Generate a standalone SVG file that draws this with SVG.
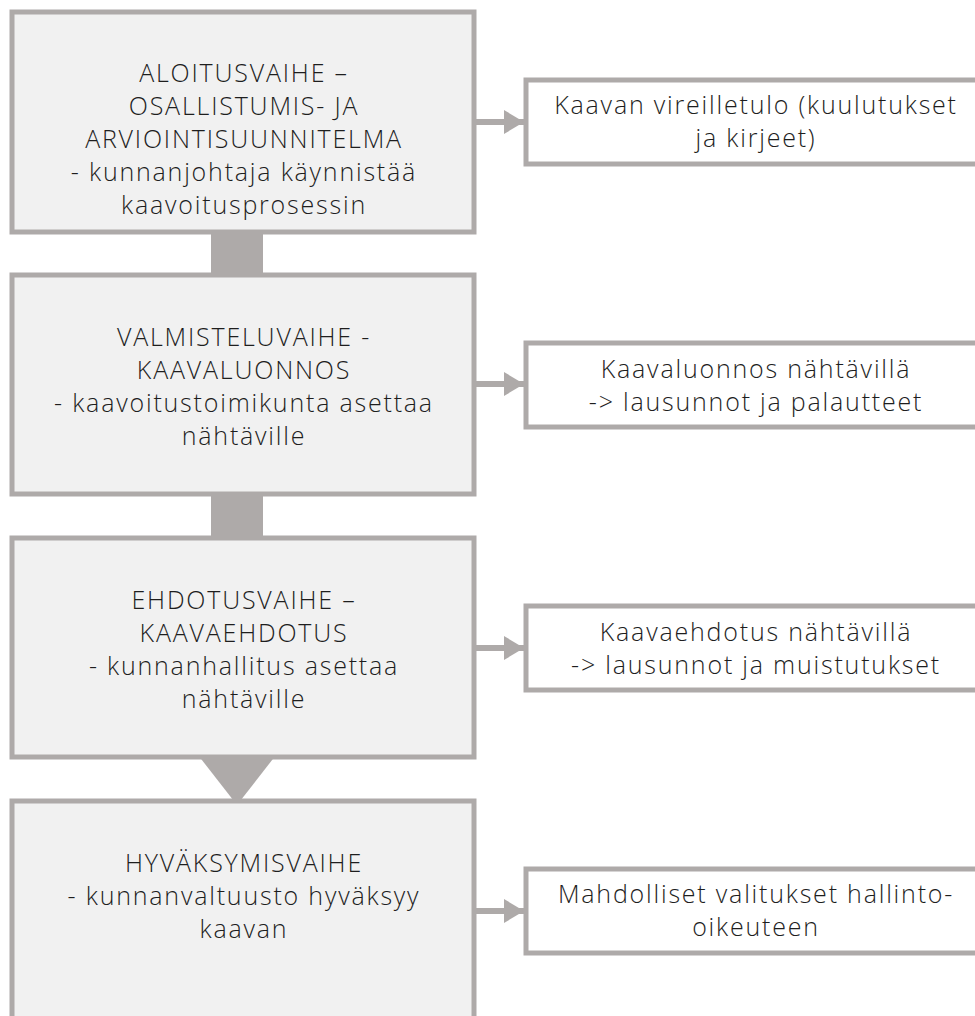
<svg xmlns="http://www.w3.org/2000/svg" width="975" height="1016" viewBox="0 0 975 1016">
<style>
.main{fill:#f1f1f1;stroke:#aeaaa9;stroke-width:5}
.side{fill:#ffffff;stroke:#aeaaa9;stroke-width:5}
.conn{fill:#aeaaa9;stroke:none}
.arr{stroke:#aeaaa9;stroke-width:6;fill:none}
text{font-family:"Open Sans","Liberation Sans",sans-serif;font-weight:300;font-size:25px;letter-spacing:1.8px;fill:#1e1e1e;text-anchor:middle}
</style>
<defs>
<marker id="ah" markerUnits="userSpaceOnUse" markerWidth="22" markerHeight="24" refX="20" refY="12" orient="auto">
<path d="M0,0 L20,12 L0,24 Z" fill="#aeaaa9"/>
</marker>
</defs>
<rect width="975" height="1016" fill="#ffffff"/>
<g id="connectors">
<rect class="conn" x="211" y="232" width="52" height="44"/>
<rect class="conn" x="211" y="494" width="52" height="44"/>
<path class="conn" d="M198,755 L276,755 L237,805 Z"/>
<line class="arr" x1="474" y1="122" x2="524" y2="122" marker-end="url(#ah)"/>
<line class="arr" x1="474" y1="384" x2="524" y2="384" marker-end="url(#ah)"/>
<line class="arr" x1="474" y1="648" x2="524" y2="648" marker-end="url(#ah)"/>
<line class="arr" x1="474" y1="911" x2="524" y2="911" marker-end="url(#ah)"/>
</g>
<g id="n1">
<rect class="main" x="12" y="12" width="462" height="220"/>
<text x="244" y="82">ALOITUSVAIHE –</text>
<text x="244" y="115">OSALLISTUMIS- JA</text>
<text x="244" y="148">ARVIOINTISUUNNITELMA</text>
<text x="244" y="181">- kunnanjohtaja käynnistää</text>
<text x="244" y="214">kaavoitusprosessin</text>
</g>
<g id="n2">
<rect class="main" x="12" y="275" width="462" height="219"/>
<text x="244" y="346">VALMISTELUVAIHE -</text>
<text x="244" y="379">KAAVALUONNOS</text>
<text x="244" y="412">- kaavoitustoimikunta asettaa</text>
<text x="244" y="445">nähtäville</text>
</g>
<g id="n3">
<rect class="main" x="12" y="538" width="462" height="219"/>
<text x="244" y="609">EHDOTUSVAIHE –</text>
<text x="244" y="642">KAAVAEHDOTUS</text>
<text x="244" y="675">- kunnanhallitus asettaa</text>
<text x="244" y="708">nähtäville</text>
</g>
<g id="n4">
<rect class="main" x="12" y="801" width="462" height="240"/>
<text x="244" y="872">HYVÄKSYMISVAIHE</text>
<text x="244" y="905">- kunnanvaltuusto hyväksyy</text>
<text x="244" y="938">kaavan</text>
</g>
<g id="s1">
<rect class="side" x="526" y="80" width="470" height="84"/>
<text x="756" y="114">Kaavan vireilletulo (kuulutukset</text>
<text x="756" y="147">ja kirjeet)</text>
</g>
<g id="s2">
<rect class="side" x="526" y="343" width="470" height="84"/>
<text x="756" y="378">Kaavaluonnos nähtävillä</text>
<text x="756" y="411">-&gt; lausunnot ja palautteet</text>
</g>
<g id="s3">
<rect class="side" x="526" y="606" width="470" height="84"/>
<text x="756" y="641">Kaavaehdotus nähtävillä</text>
<text x="756" y="674">-&gt; lausunnot ja muistutukset</text>
</g>
<g id="s4">
<rect class="side" x="526" y="869" width="470" height="84"/>
<text x="756" y="903">Mahdolliset valitukset hallinto-</text>
<text x="756" y="936">oikeuteen</text>
</g>
</svg>
